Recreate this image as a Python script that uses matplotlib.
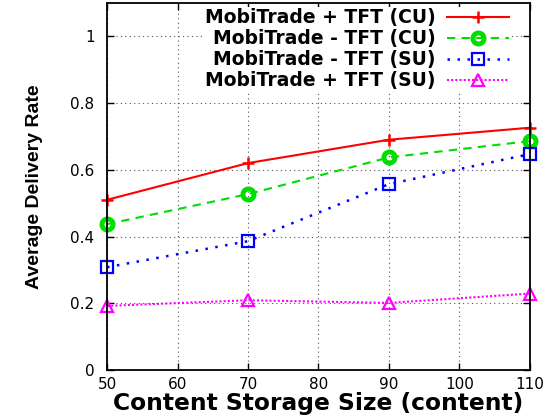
import matplotlib.pyplot as plt

storage = [50, 70, 90, 110]
plus_cu = [0.51, 0.62, 0.69, 0.726]
minus_cu = [0.437, 0.527, 0.637, 0.686]
minus_su = [0.308, 0.386, 0.557, 0.647]
plus_su = [0.192, 0.209, 0.201, 0.229]

labels = ['MobiTrade + TFT (CU)', 'MobiTrade - TFT (CU)',
          'MobiTrade - TFT (SU)', 'MobiTrade + TFT (SU)']

plt.rcParams['font.family'] = ['DejaVu Sans']

fig = plt.figure(figsize=(5.49, 4.19), dpi=100)
ax = fig.add_axes([0.195, 0.117, 0.77, 0.876])

ax.plot(storage, plus_cu, color='red', lw=1.5, marker='+', ms=9, mew=1.8,
        clip_on=False, label=labels[0])
ax.plot(storage, minus_cu, color='#00dd00', lw=1.5, ls=(0, (4, 3)), marker='o', ms=8,
        mfc='none', mew=3.5, clip_on=False, label=labels[1])
ax.plot(storage, minus_su, color='blue', lw=1.8, ls=(0, (1, 3)), marker='s', ms=9,
        mfc='none', mew=1.6, clip_on=False, label=labels[2])
ax.plot(storage, plus_su, color='magenta', lw=1.5, ls=(0, (1, 1)), marker='^', ms=9,
        mfc='none', mew=1.6, clip_on=False, label=labels[3])

ax.set_xlim(50, 110)
ax.set_ylim(0, 1.1)
ax.set_xticks(range(50, 111, 10))
ax.set_yticks([0, 0.2, 0.4, 0.6, 0.8, 1])
ax.set_yticklabels(['0', '0.2', '0.4', '0.6', '0.8', '1'])
ax.tick_params(direction='in', top=True, right=True, labelsize=11, length=5, width=1)
ax.tick_params(axis='x', pad=5)
ax.tick_params(axis='y', pad=9)
ax.grid(True, color='#555555', ls=(0, (1, 3)), lw=0.8)
for s in ax.spines.values():
    s.set_linewidth(1.3)

ax.set_xlabel('Content Storage Size (content)', fontsize=16.8, fontweight='bold', labelpad=0)
ax.set_ylabel('Average Delivery Rate', fontsize=14, fontweight='bold', labelpad=20,
              family=['Liberation Sans Narrow', 'Liberation Sans'])

leg = ax.legend(loc='upper right', bbox_to_anchor=(0.955, 0.99), markerfirst=False,
                handlelength=3.3, frameon=True, edgecolor='none', facecolor='white',
                framealpha=1, borderaxespad=0, borderpad=0.1, labelspacing=0.1,
                handletextpad=0.6, prop={'weight': 'bold', 'size': 13.5}, fancybox=False)

fig.savefig('out.png', dpi=100)
